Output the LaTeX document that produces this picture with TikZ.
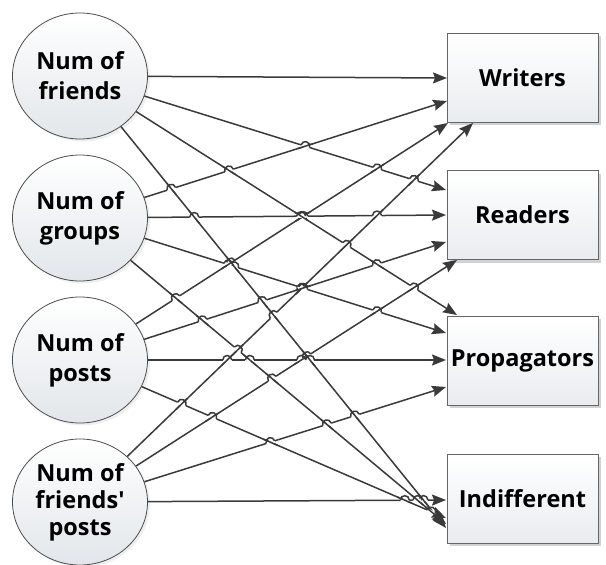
\documentclass[tikz,border=0pt]{standalone}
\usepackage{fontspec}
\setmainfont{Open Sans}
\usetikzlibrary{shapes.geometric,arrows.meta,calc,shadows}
\definecolor{linec}{HTML}{3A3A3A}
\definecolor{cbot}{HTML}{E2E6EA}
\definecolor{bbot}{HTML}{E9ECEF}
\begin{document}
\begin{tikzpicture}[x=1pt,y=-1pt,
  srcnode/.style={ellipse, draw=black!70, line width=0.8pt,
    minimum width=135pt, minimum height=126pt, inner sep=0pt,
    top color=white, bottom color=cbot,
    drop shadow={shadow xshift=2.5pt,shadow yshift=-2.5pt,fill=black!12},
    font=\bfseries\fontsize{23.5}{30}\selectfont, align=center},
  catnode/.style={rectangle, draw=black!60, line width=0.8pt,
    minimum width=151pt, minimum height=89pt, inner sep=0pt,
    top color=white, bottom color=bbot,
    drop shadow={shadow xshift=3pt,shadow yshift=-3pt,fill=black!35},
    font=\bfseries\fontsize{23.5}{30}\selectfont},
  conn/.style={draw=linec, line width=1.5pt,
    -{Stealth[length=14pt,width=11pt,inset=2pt]}},
  hopline/.style={draw=linec, line width=1.5pt},
  eraser/.style={draw=white, line width=3.2pt}]
\useasboundingbox (0,0) rectangle (606,565);

\node[srcnode] (F) at (80,76) {Num of\\friends};
\node[srcnode] (G) at (80,218) {Num of\\groups};
\node[srcnode] (P) at (80,360) {Num of\\posts};
\node[srcnode, font=\bfseries\fontsize{23.5}{27}\selectfont] (Q) at (80,502) {Num of\\friends\textquotesingle\\posts};

\node[catnode] (W) at (522.5,77.5) {Writers};
\node[catnode] (R) at (522.5,215) {Readers};
\node[catnode] (Pr) at (522.5,360.5) {Propagators};
\node[catnode] (I) at (522.5,498.5) {Indifferent};

% connectors, ordered from steepest to flattest (flatter lines hop)
\foreach \s/\cy/\t/\tx/\ty [count=\n] in {
   F/76/i1/446/528, Q/502/w4/473/123, G/218/i2/446/524, P/360/w3/448/123,
   Q/502/r4/457/260, F/76/p1/457/315, P/360/i3/446/518, P/360/r3/446/242,
   G/218/w2/447/101, G/218/p2/446/333, Q/502/p4/446/387, F/76/r1/446/190,
   G/218/r2/446/215, F/76/w1/447/78, Q/502/i4/446/500, P/360/p3/446/360} {
  \pgfmathsetmacro\mym{(\ty-\cy)/(\tx-80)}
  \expandafter\xdef\csname lnm\n\endcsname{\mym}
  \expandafter\xdef\csname lncy\n\endcsname{\cy}
  \coordinate (\t) at (\tx,\ty);
  \draw[conn] (\s) -- (\t);
}

% line hops
\foreach \j in {2,...,16} {
  \pgfmathtruncatemacro\je{\j-1}
  \foreach \i in {1,...,\je} {
    \edef\myma{\csname lnm\i\endcsname}
    \edef\mymb{\csname lnm\j\endcsname}
    \edef\mycya{\csname lncy\i\endcsname}
    \edef\mycyb{\csname lncy\j\endcsname}
    \pgfmathtruncatemacro\myok{abs(\mymb-\myma)>0.05}
    \ifnum\myok>0
      \pgfmathsetmacro\mydd{(\mycya-\mycyb)/(\mymb-\myma)}
      \pgfmathsetmacro\myxx{80+\mydd}
      \pgfmathsetmacro\myyy{\mycyb+\mymb*\mydd}
      \pgfmathtruncatemacro\myin{(\myxx>150)&&(\myxx<432)}
      \ifnum\myin>0
        \pgfmathsetmacro\myLb{sqrt(1+\mymb*\mymb)}
        \pgfmathsetmacro\myux{1/\myLb}
        \pgfmathsetmacro\myuy{\mymb/\myLb}
        \pgfmathsetmacro\myLa{sqrt(1+\myma*\myma)}
        \pgfmathsetmacro\myvx{1/\myLa}
        \pgfmathsetmacro\myvy{\myma/\myLa}
        \coordinate (X) at (\myxx,\myyy);
        \coordinate (h1) at ($(X)+(-4.5*\myux,-4.5*\myuy)$);
        \coordinate (h2) at ($(X)+(4.5*\myux,4.5*\myuy)$);
        \coordinate (hc1) at ($(h1)+(6*\myuy,-6*\myux)$);
        \coordinate (hc2) at ($(h2)+(6*\myuy,-6*\myux)$);
        \coordinate (o1) at ($(X)+(-8*\myvx,-8*\myvy)$);
        \coordinate (o2) at ($(X)+(8*\myvx,8*\myvy)$);
        \draw[eraser] (h1) -- (h2);
        \draw[hopline] (o1) -- (o2);
        \draw[hopline] (h1) .. controls (hc1) and (hc2) .. (h2);
      \fi
    \fi
  }
}
\end{tikzpicture}
\end{document}
